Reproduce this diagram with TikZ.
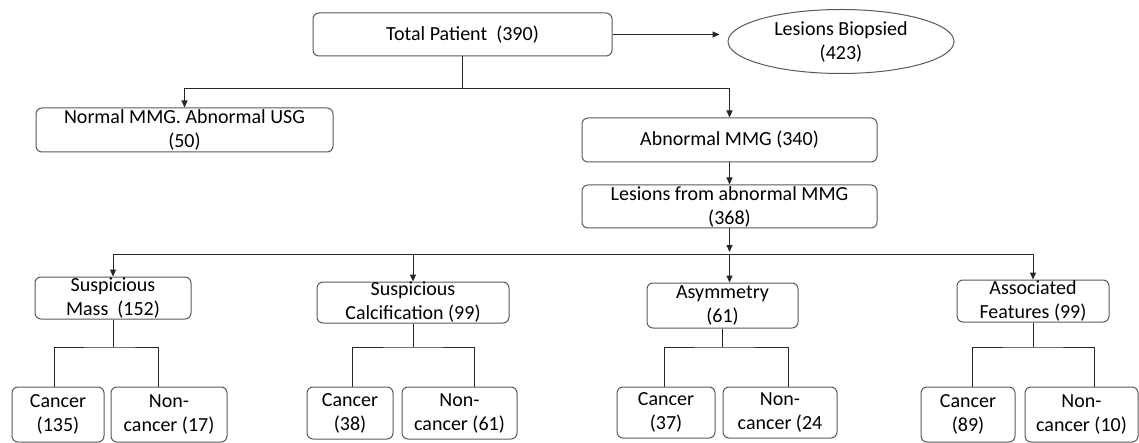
\documentclass[tikz,border=0pt]{standalone}
\usepackage{fontspec}
\setmainfont{Carlito}
\usetikzlibrary{arrows.meta,shapes.geometric}

\tikzset{
  box/.style={draw=black!65, line width=0.5pt, rounded corners=3pt, align=center,
    inner sep=0pt, font=\fontsize{10}{12}\selectfont},
  oval/.style={draw=black!65, line width=0.5pt, ellipse, align=center,
    inner sep=0pt, font=\fontsize{10}{12}\selectfont},
  link/.style={draw=black!85, line width=0.5pt},
  arr/.style={link, -{Triangle[length=3.5pt,width=3pt]}}
}

\begin{document}
\begin{tikzpicture}[x=0.5pt, y=-0.5pt]
    \useasboundingbox (0,0) rectangle (1139,443);
    % top part
    \node[box, minimum width=149.5pt, minimum height=21.5pt] (total) at (462.5,34.5) {Total Patient\ \ (390)};
    \node[oval, minimum width=113pt, minimum height=32pt] (biopsy) at (841,41.5) {Lesions Biopsied\\(423)};
    \node[box, minimum width=148.5pt, minimum height=22pt] (normal) at (184.5,130) {Normal MMG. Abnormal USG\\(50)};
    \node[box, minimum width=147.5pt, minimum height=22pt] (abn) at (729.5,140) {Abnormal MMG (340)};
    \node[box, minimum width=147.5pt, minimum height=21.5pt] (lesion) at (729.5,206.5) {Lesions from abnormal MMG\\(368)};
    % lesion types
    \node[box, minimum width=78pt, minimum height=21pt] (mass) at (113,298) {Suspicious\\Mass\ \ (152)};
    \node[box, minimum width=96pt, minimum height=20.5pt] (calc) at (413,302.5) {Suspicious\\Calcification (99)};
    \node[box, minimum width=75.5pt, minimum height=22.5pt] (asym) at (722.5,305.5) {Asymmetry\\(61)};
    \node[box, minimum width=76pt, minimum height=21pt] (assoc) at (1033,301) {Associated\\Features (99)};
    % outcomes
    \node[box, minimum width=46pt, minimum height=27.5pt] (c1) at (58,414.5) {Cancer\\(135)};
    \node[box, minimum width=58pt, minimum height=27.5pt] (n1) at (169,414.5) {Non-\\cancer (17)};
    \node[box, minimum width=43pt, minimum height=26pt] (c2) at (350,413) {Cancer\\(38)};
    \node[box, minimum width=57.5pt, minimum height=26pt] (n2) at (459.5,413) {Non-\\cancer (61)};
    \node[box, minimum width=49pt, minimum height=25.5pt] (c3) at (666,412.5) {Cancer\\(37)};
    \node[box, minimum width=57pt, minimum height=25.5pt] (n3) at (780,412.5) {Non-\\cancer (24};
    \node[box, minimum width=47pt, minimum height=27.5pt] (c4) at (968,414.5) {Cancer\\(89)};
    \node[box, minimum width=56.5pt, minimum height=27.5pt] (n4) at (1081.5,414.5) {Non-\\cancer (10)};

    % connectors at the top
    \draw[arr, shorten >=4pt] (total.east) -- (biopsy.west |- total.east);
    \draw[link] (total.south) -- ++(0,32) coordinate (split);
    \draw[arr] (split) -| (normal.north);
    \draw[arr] (split) -| (abn.north);
    \draw[arr] (abn.south) -- (lesion.north);
    % bus to the four lesion types
    \coordinate (bus) at (729.5,254);
    \draw[arr, shorten >=1pt] (lesion.south) -- (bus);
    \draw[link] (mass.north |- bus) -- (assoc.north |- bus);
    \foreach \t in {mass,calc,assoc}
        \draw[arr] (\t.north |- bus) -- (\t.north);
    \draw[arr] (bus) -- (bus |- asym.north);
    % split into cancer / non-cancer
    \coordinate (fork) at (0,347);
    \foreach \t/\c/\n/\dc/\dn in {mass/c1/n1/-4/-11, calc/c2/n2/2/15, asym/c3/n3/-2/8, assoc/c4/n4/4/13}{
        \draw[link] (\t.south) -- (\t.south |- fork) coordinate (\t-j);
        \draw[link] ([xshift=\dc*0.5pt]\c.north) |- (\t-j) -| ([xshift=\dn*0.5pt]\n.north);
    }
\end{tikzpicture}
\end{document}
